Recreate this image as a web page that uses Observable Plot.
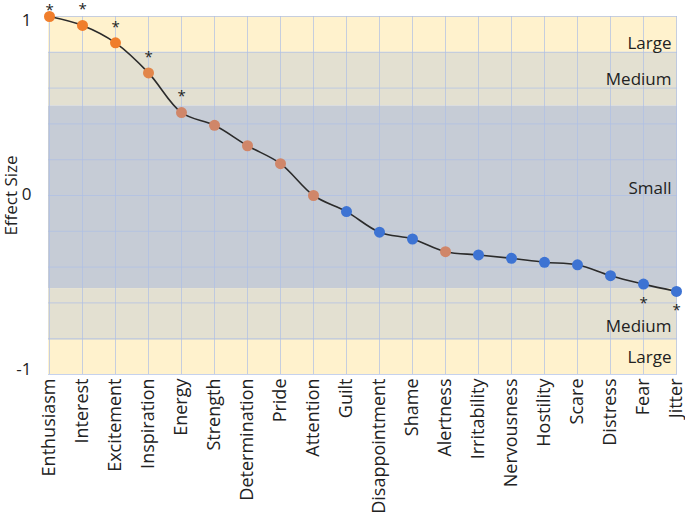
<!DOCTYPE html>
<html>
<head>
<meta charset="utf-8">
<script src="https://cdn.jsdelivr.net/npm/d3@7"></script>
<script src="https://cdn.jsdelivr.net/npm/@observablehq/plot@0.6"></script>
<style>
  body { margin: 0; background: #fff; }
  svg { overflow: visible; }
</style>
</head>
<body>
<div id="chart"></div>
<script>
const categories = ["Enthusiasm","Interest","Excitement","Inspiration","Energy","Strength","Determination","Pride","Attention","Guilt","Disappointment","Shame","Alertness","Irritability","Nervousness","Hostility","Scare","Distress","Fear","Jitter"];
const effectSizes = [1.00, 0.95, 0.853, 0.685, 0.463, 0.392, 0.278, 0.178, 0.0, -0.09, -0.205, -0.243, -0.314, -0.332, -0.351, -0.373, -0.387, -0.448, -0.495, -0.536];
const groups = ["pos","pos","pos","pos","pos","pos","pos","pos","pos","neg","neg","neg","pos","neg","neg","neg","neg","neg","neg","neg"];
const significance = [1,1,1,1,1,0,0,0,0,0,0,0,0,0,0,0,0,0,-1,-1];
const bandLabels = ["Large","Medium","Small","Medium","Large"];
const bandTops = [1, 0.8, 0.5, -0.52, -0.81];
const bandBottoms = [0.8, 0.5, -0.52, -0.81, -1];
const bandLabelAt = [0.85, 0.645, 0.04, -0.73, -0.905];
const bandColors = ["#FFF2CD","#E3E0D1","#C6CCD6","#E3E0D1","#FFF2CD"];
const yTicks = [1, 0, -1];
const gridValues = [-1,-0.8,-0.6,-0.4,-0.2,0,0.2,0.4,0.6,0.8,1];

const points = categories.map((c, i) => ({cat: c, value: effectSizes[i], group: groups[i], sig: significance[i]}));
const bands = bandLabels.map((l, i) => ({label: l, top: bandTops[i], bottom: bandBottoms[i], color: bandColors[i], at: bandLabelAt[i]}));

const dotFill = d => d.group === "neg" ? "#3D73D3" : d.value > 0.8 ? "#F07E2C" : d.value > 0.5 ? "#E2864A" : "#D08669";

const font = "'Open Sans', sans-serif";
const tickFmt = d => d === -1 ? "-1" : String(d);

const chart = Plot.plot({
  width: 685,
  height: 513,
  marginLeft: 48,
  marginRight: 8,
  marginTop: 16,
  marginBottom: 139,
  style: {fontFamily: font, background: "transparent"},
  x: {type: "point", domain: categories, padding: 0, label: null},
  y: {domain: [-1, 1], label: null},
  marks: [
    Plot.rect(bands, {y1: "bottom", y2: "top", fill: d => d.color}),
    Plot.ruleY(gridValues, {stroke: "#AEBFE6", strokeOpacity: 0.7, strokeWidth: 1}),
    Plot.ruleX(categories, {x: d => d, y1: -1, y2: 1, stroke: "#AEBFE6", strokeOpacity: 0.7, strokeWidth: 1}),
    Plot.text(bands, {text: "label", y: "at", frameAnchor: "right", dx: -6, textAnchor: "end", fontSize: 17, fill: "#222", style: "letter-spacing:0.4px"}),
    Plot.line(points, {x: "cat", y: "value", stroke: "#2b2b2b", strokeWidth: 1.6, curve: "catmull-rom"}),
    Plot.dot(points, {x: "cat", y: "value", r: 5.5, fill: dotFill, stroke: "none"}),
    Plot.text(points.filter((d, i) => d.sig > 0 && i > 0), {x: "cat", y: "value", text: () => "*", dy: -16, fontSize: 15, fill: "#222"}),
    Plot.text(points.filter((d, i) => d.sig > 0 && i === 0), {x: "cat", y: "value", text: () => "*", dy: -6, fontSize: 15, fill: "#222"}),
    Plot.text(points.filter(d => d.sig < 0), {x: "cat", y: "value", text: () => "*", dy: 19, fontSize: 15, fill: "#222"}),
    Plot.axisY([1], {tickSize: 0, tickPadding: 17, fontSize: 17, fill: "#222", dy: 4, tickFormat: tickFmt}),
    Plot.axisY([0], {tickSize: 0, tickPadding: 17, fontSize: 17, fill: "#222", dy: -1, tickFormat: tickFmt}),
    Plot.axisY([-1], {tickSize: 0, tickPadding: 17, fontSize: 17, fill: "#222", dy: -5, tickFormat: tickFmt}),
    Plot.axisX({tickSize: 0, tickPadding: 4, tickRotate: -90, fontSize: 18, fill: "#222", style: "letter-spacing:0.9px"}),
    Plot.text(["Effect Size"], {frameAnchor: "left", dx: -37, rotate: -90, textAnchor: "middle", fontSize: 17, fill: "#222", style: "letter-spacing:0.5px", text: d => d})
  ]
});
document.getElementById("chart").appendChild(chart);
</script>
</body>
</html>
